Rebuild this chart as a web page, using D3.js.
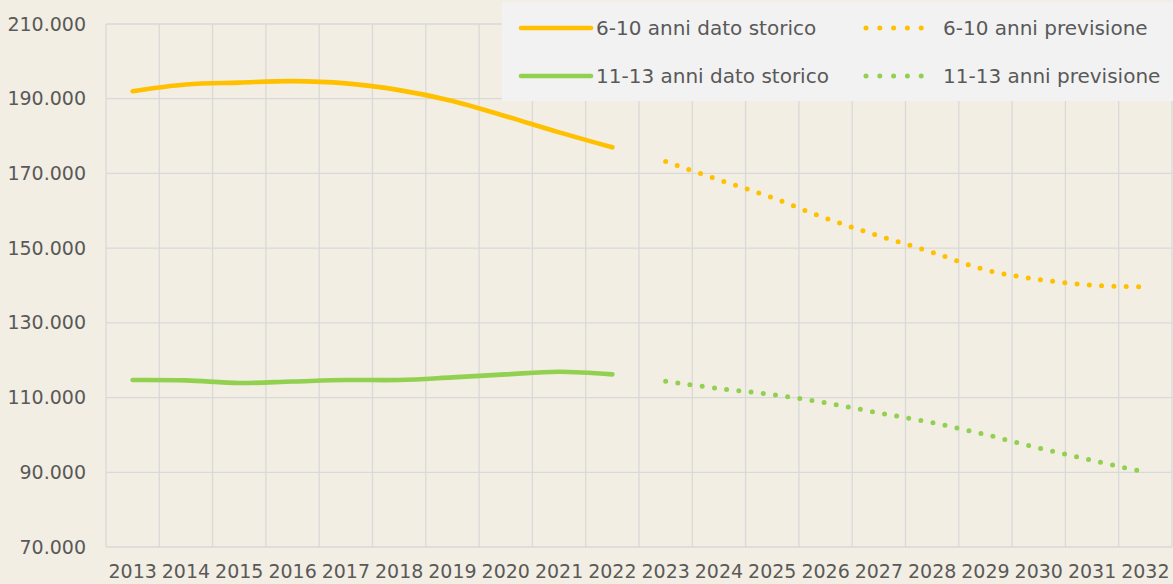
<!DOCTYPE html>
<head>
  <meta charset="utf-8" />
  <script src="https://d3js.org/d3.v7.min.js"></script>
  <style>
    body { margin: 0; background: #f2eee3; }
    svg { display: block; background-color: #f2eee3; }
    text { font-family: "DejaVu Sans", sans-serif; fill: #595959; }
  </style>
</head>

<body>
  <svg width="1173" height="584"></svg>

  <script>
    // years on the category axis
    var years = d3.range(2013, 2033).map(String);
    var histYears = years.slice(0, 10);
    var prevYears = years.slice(10);

    // values
    var storico610 = [192000, 193800, 194300, 194700, 194100, 192300, 189400, 185300, 181000, 177000];
    var previsione610 = [173200, 168300, 163500, 158000, 153300, 148900, 144200, 141600, 140100, 139600];
    var storico1113 = [114700, 114600, 113900, 114300, 114700, 114700, 115400, 116200, 116900, 116200];
    var previsione1113 = [114400, 112400, 110800, 108600, 105900, 103300, 100100, 96500, 93200, 90000];

    var yTicks = [70000, 90000, 110000, 130000, 150000, 170000, 190000, 210000];

    var series = [
      { name: "6-10 anni dato storico", years: histYears, values: storico610, color: "#ffc000", dotted: false },
      { name: "6-10 anni previsione", years: prevYears, values: previsione610, color: "#ffc000", dotted: true },
      { name: "11-13 anni dato storico", years: histYears, values: storico1113, color: "#92d050", dotted: false },
      { name: "11-13 anni previsione", years: prevYears, values: previsione1113, color: "#92d050", dotted: true }
    ];

    var margin = { top: 24, right: 1, bottom: 37, left: 106 };
    var width = 1173 - margin.left - margin.right;
    var height = 584 - margin.top - margin.bottom;

    var svg = d3.select("svg");
    var g = svg.append("g").attr("transform", "translate(" + margin.left + "," + margin.top + ")");

    var x = d3.scaleBand().domain(years).range([0, width]);
    var y = d3.scaleLinear().domain([70000, 210000]).range([height, 0]);

    var it = d3.formatLocale({ decimal: ",", thousands: ".", grouping: [3], currency: ["", "€"] });
    var fmt = it.format(",d");

    // horizontal gridlines
    g.selectAll("line.hgrid")
      .data(yTicks)
      .enter()
      .append("line")
      .attr("class", "hgrid")
      .attr("x1", 0)
      .attr("x2", width)
      .attr("y1", function (d) { return y(d); })
      .attr("y2", function (d) { return y(d); })
      .attr("stroke", "#d9d9d9")
      .attr("stroke-width", 1.3);

    // vertical gridlines between categories
    var bounds = years.map(function (d) { return x(d); }).concat([width]);
    g.selectAll("line.vgrid")
      .data(bounds)
      .enter()
      .append("line")
      .attr("class", "vgrid")
      .attr("x1", function (d) { return d; })
      .attr("x2", function (d) { return d; })
      .attr("y1", 0)
      .attr("y2", height)
      .attr("stroke", "#d9d9d9")
      .attr("stroke-width", 1.3);

    // y axis labels
    var yAxis = d3.axisLeft(y).tickValues(yTicks).tickFormat(fmt).tickSize(0).tickPadding(20);
    var ya = g.append("g").call(yAxis);
    ya.select(".domain").remove();
    ya.selectAll("text").style("font-size", "19px").attr("fill", "#595959");

    // x axis labels
    var xAxis = d3.axisBottom(x).tickSize(0).tickPadding(18);
    var xa = g.append("g").attr("transform", "translate(0," + height + ")").call(xAxis);
    xa.select(".domain").remove();
    xa.selectAll("text").style("font-size", "19px").attr("fill", "#595959");

    var line = d3.line()
      .x(function (d) { return x(d[0]) + x.bandwidth() / 2; })
      .y(function (d) { return y(d[1]); })
      .curve(d3.curveCatmullRom.alpha(0.5));

    series.forEach(function (s) {
      var pts = s.years.map(function (yr, i) { return [yr, s.values[i]]; });
      g.append("path")
        .datum(pts)
        .attr("fill", "none")
        .attr("stroke", s.color)
        .attr("stroke-width", s.dotted ? 5 : 4.6)
        .attr("stroke-linecap", "round")
        .attr("stroke-linejoin", "round")
        .attr("stroke-dasharray", s.dotted ? "0 12.3" : null)
        .attr("d", line);
    });

    // legend
    var lg = svg.append("g");
    lg.append("rect")
      .attr("x", 502)
      .attr("y", 2)
      .attr("width", 671)
      .attr("height", 99)
      .attr("fill", "#f2f2f2");

    var legendPos = [
      { x: 521, y: 28 },
      { x: 866, y: 28 },
      { x: 521, y: 76 },
      { x: 866, y: 76 }
    ];

    series.forEach(function (s, i) {
      var p = legendPos[i];
      lg.append("line")
        .attr("x1", p.x)
        .attr("x2", s.dotted ? p.x + 69 : p.x + 70)
        .attr("y1", p.y)
        .attr("y2", p.y)
        .attr("stroke", s.color)
        .attr("stroke-width", s.dotted ? 5 : 4.6)
        .attr("stroke-linecap", "round")
        .attr("stroke-dasharray", s.dotted ? "0 13.8" : null);
      lg.append("text")
        .attr("x", s.dotted ? p.x + 77 : p.x + 75)
        .attr("y", p.y)
        .attr("dy", "0.35em")
        .style("font-size", "20px")
        .text(s.name);
    });
  </script>
</body>
